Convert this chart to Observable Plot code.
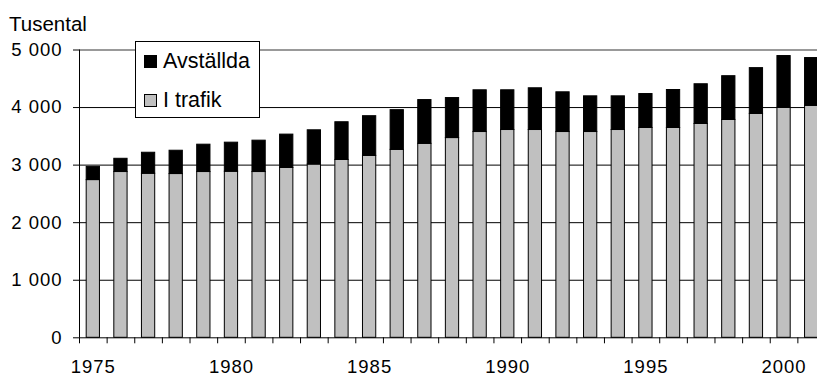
<!DOCTYPE html>
<html>
<head>
<meta charset="utf-8">
<script src="https://cdn.jsdelivr.net/npm/d3@7"></script>
<script src="https://cdn.jsdelivr.net/npm/@observablehq/plot@0.6"></script>
<style>
  html, body { margin: 0; padding: 0; background: white; overflow: hidden; }
  #wrap { position: relative; width: 817px; height: 376px; overflow: hidden; font-family: "Liberation Sans", Arial, sans-serif; }
  #unit { position: absolute; left: 9px; top: 12px; font-size: 20.5px; color: black; }
  #legend { position: absolute; left: 135px; top: 41px; width: 123px; height: 75px; border: 1px solid black; background: white; }
  .sw { position: absolute; left: 8px; width: 11px; height: 11px; border: 1px solid black; }
  .lt { position: absolute; left: 27px; font-size: 21.5px; color: black; line-height: 1; }
</style>
</head>
<body>
<div id="wrap">
  <div id="chart"></div>
  <div id="unit"></div>
  <div id="legend"></div>
</div>
<script>
const years = [1975, 1976, 1977, 1978, 1979, 1980, 1981, 1982, 1983, 1984, 1985, 1986, 1987, 1988, 1989, 1990, 1991, 1992, 1993, 1994, 1995, 1996, 1997, 1998, 1999, 2000, 2001];
const iTrafik = [2740, 2880, 2850, 2845, 2880, 2885, 2880, 2950, 3010, 3090, 3160, 3265, 3370, 3470, 3575, 3610, 3610, 3575, 3575, 3610, 3645, 3645, 3715, 3785, 3890, 3995, 4030];
const avstallda = [230, 230, 365, 405, 475, 505, 545, 580, 595, 655, 690, 690, 760, 695, 725, 690, 725, 690, 620, 585, 590, 660, 690, 760, 795, 900, 830];
const yTicks = [0, 1000, 2000, 3000, 4000, 5000];
const xLabels = [1975, 1980, 1985, 1990, 1995, 2000];
const seriesNames = ["Avställda", "I trafik"];
const seriesColors = ["black", "#c0c0c0"];
const unitLabel = "Tusental";

const table = years.map((y, i) => ({year: y, trafik: iTrafik[i], avst: avstallda[i]}));
const boundaries = years.map(y => y - 0.5).concat([years[years.length - 1] + 0.5]);
const fmt = d => d3.format(",")(d).replace(/,/g, " ");
const half = 0.24;

const chart = Plot.plot({
  width: 817,
  height: 376,
  marginLeft: 79,
  marginRight: -8,
  marginTop: 49.5,
  marginBottom: 38.7,
  style: {fontFamily: "Liberation Sans, Arial, sans-serif", fontSize: "18.5px", letterSpacing: "1px", color: "black", overflow: "hidden"},
  x: {type: "linear", domain: [years[0] - 0.5, years[years.length - 1] + 0.5], axis: null},
  y: {domain: [0, 5000], axis: null},
  marks: [
    Plot.ruleY(yTicks.filter(v => v > 0 && v < 5000), {stroke: "black"}),
    Plot.ruleY([5000], {stroke: "#999", strokeWidth: 2}),
    Plot.rect(table, {x1: d => d.year - half, x2: d => d.year + half, y1: d => 0, y2: "trafik", fill: seriesColors[1], stroke: "black"}),
    Plot.rect(table, {x1: d => d.year - half, x2: d => d.year + half, y1: "trafik", y2: d => d.trafik + d.avst, fill: seriesColors[0], stroke: "black"}),
    Plot.ruleY([0], {stroke: "black"}),
    Plot.ruleX([years[0] - 0.5], {stroke: "black"}),
    Plot.axisY({ticks: yTicks, tickSize: 6, tickPadding: 11, tickFormat: fmt, label: null}),
    Plot.axisX({ticks: boundaries, tickSize: 6, tickFormat: () => "", label: null}),
    Plot.axisX({ticks: xLabels, tickSize: 0, tickPadding: 22.5, tickFormat: d => String(d), label: null})
  ]
});
document.getElementById("chart").appendChild(chart);

document.getElementById("unit").textContent = unitLabel;
const legend = document.getElementById("legend");
const rows = [{sw: 13, txt: 9}, {sw: 52, txt: 48}];
seriesNames.forEach((name, i) => {
  const sw = document.createElement("div");
  sw.className = "sw";
  sw.style.top = rows[i].sw + "px";
  sw.style.background = seriesColors[i];
  legend.appendChild(sw);
  const t = document.createElement("div");
  t.className = "lt";
  t.style.top = rows[i].txt + "px";
  t.textContent = name;
  legend.appendChild(t);
});
</script>
</body>
</html>
